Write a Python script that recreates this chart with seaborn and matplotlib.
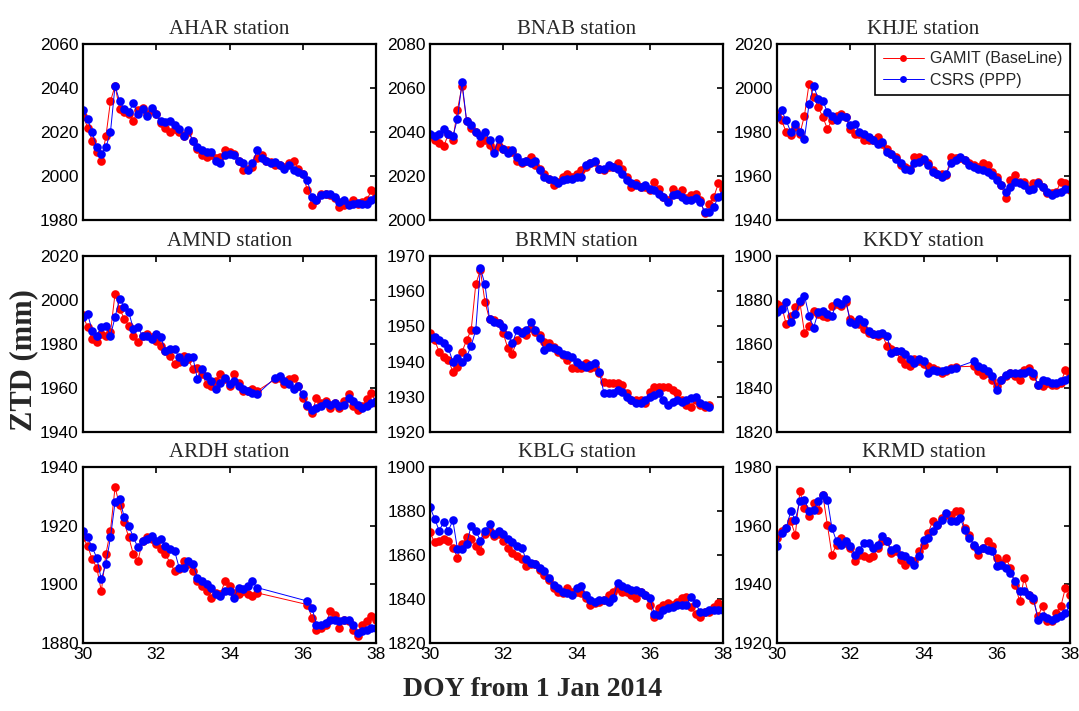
import numpy as np
import pandas as pd
import matplotlib
matplotlib.use("Agg")
import matplotlib.pyplot as plt
import seaborn as sns

# ---------------- data ----------------
doy = np.arange(30, 38.0001, 0.125)   # 3-hourly epochs, DOY 30..38

stations = ["AHAR", "BNAB", "KHJE", "AMND", "BRMN", "KKDY", "ARDH", "KBLG", "KRMD"]
series_names = ["GAMIT (BaseLine)", "CSRS (PPP)"]
N = None

ahar_gamit = [2027.5, 2022, 2016, 2011, 2007, 2018, 2034, 2041,
              2030.5, 2029, 2028, 2025, 2030, 2031, 2028, 2030,
              2028, 2024, 2022, 2020, 2021.5, 2020, 2018, 2020,
              2016, 2012.5, 2009.5, 2008.5, 2009.5, 2008, 2008.5, 2011.7,
              2011, 2010, 2007, 2002.7, 2003.4, 2004, 2008, 2009.5,
              2007, 2006.4, 2005, 2005, 2004, 2005.7, 2007, 2003.4,
              2001, 1993.6, 1986.8, 1989, 1992, 1992, 1991.3, 1989.8,
              1986, 1986.8, 1987.5, 1989, 1987.5, 1988.3, 1989, 1993.6,
              1991.3]
ahar_csrs = [2030, 2026, 2020, 2013, 2010, 2013, 2020, 2041,
             2034, 2030.5, 2029, 2033, 2028, 2030.5, 2027.5, 2031,
             2028, 2025, 2024.5, 2025, 2023, 2021.5, 2018, 2020.7,
             2016, 2013, 2011.7, 2011, 2011, 2007, 2005.7, 2009.5,
             2010, 2009.5, 2007, 2005.7, 2002.7, 2005.7, 2011.7, 2008,
             2007, 2005.7, 2006.4, 2005, 2003.4, 2005, 2002.7, 2002,
             2001, 1998, 1990.5, 1989, 1991.3, 1992, 1991.6, 1990.5,
             1988.3, 1989, 1986.8, 1987.5, 1987.8, 1987.5, 1987.5, 1989,
             1989.8]

bnab_gamit = [2038, 2036.5, 2035, 2033.5, 2039, 2036.5, 2050, 2061,
              2045, 2042, 2040, 2035, 2036.5, 2034, 2032, 2033.5,
              2032.5, 2032, 2031, 2027, 2025.7, 2027, 2028.7, 2025,
              2023.4, 2021, 2018.6, 2015.8, 2017.4, 2019.6, 2021, 2019.6,
              2021, 2022.6, 2024, 2025.7, 2026.4, 2023.4, 2022.6, 2024,
              2024, 2025.7, 2023.4, 2019.6, 2015, 2016.6, 2015, 2015,
              2013.6, 2017.4, 2014.3, 2010.6, 2009, 2014.3, 2012, 2013.6,
              2009.8, 2011.3, 2012, 2009, 2003, 2007.5, 2010.6, 2016.6,
              2014.3]
bnab_csrs = [2039, 2038, 2039, 2041.5, 2039, 2038, 2046, 2062.6,
             2045, 2043, 2040, 2038, 2040, 2036.5, 2030.6, 2037,
             2032.5, 2030.6, 2032, 2028.7, 2026.4, 2027, 2025.7, 2027,
             2022.6, 2019.6, 2018.6, 2018, 2016.6, 2018, 2018.6, 2018.6,
             2019.6, 2019.6, 2025, 2025.7, 2027, 2023.4, 2023.4, 2025,
             2024, 2023.4, 2021, 2018, 2016.6, 2015.8, 2015, 2015.8,
             2014.3, 2013.6, 2012, 2010.6, 2008.3, 2011.3, 2012, 2010.6,
             2009, 2009, 2009.8, 2008.3, 2003.7, 2003.7, 2006, 2010.6,
             2011.3]

khje_gamit = [1988.3, 1985.3, 1980, 1978.5, 1982.3, 1979.2, 1987.5, 2002,
              1996, 1991.3, 1986.8, 1981.5, 1985.3, 1987.5, 1988.3, 1986.8,
              1981.5, 1979.2, 1979.2, 1976.2, 1976.2, 1976.2, 1977.7, 1974.7,
              1972.5, 1970.2, 1968.7, 1965, 1964.2, 1963.4, 1968.7, 1968.7,
              1967.2, 1965.7, 1962.6, 1961.1, 1961.1, 1960.4, 1968.7, 1968,
              1968, 1967.2, 1965.7, 1965, 1964.2, 1965.7, 1965, 1961.9,
              1959.6, 1955.8, 1949.8, 1958.1, 1960.4, 1957.4, 1957.4, 1954.3,
              1956.6, 1957.4, 1955.1, 1952.1, 1952.1, 1952.8, 1957.4, 1956.6,
              1953.6]
khje_csrs = [1986.8, 1989.8, 1985.3, 1980, 1983.8, 1980, 1977, 1992.8,
             2001, 1995, 1994.3, 1989, 1987.5, 1985.3, 1987.5, 1986.8,
             1983, 1983.8, 1980, 1979.2, 1977.7, 1976.2, 1974.7, 1975.5,
             1970.9, 1970.2, 1967.9, 1965.7, 1963.4, 1962.6, 1965.7, 1966.4,
             1967.9, 1965, 1961.9, 1961.1, 1959.6, 1961.1, 1965.7, 1967.2,
             1968.7, 1967.2, 1965, 1964.2, 1963.4, 1962.6, 1961.9, 1960.4,
             1958.1, 1955.8, 1952.8, 1955.1, 1957.4, 1956.6, 1955.8, 1953.6,
             1954.3, 1956.6, 1955.1, 1952.8, 1951.3, 1952.1, 1952.8, 1954.3,
             1954.3]

amnd_gamit = [1993, 1987.6, 1982.3, 1980.8, 1984.6, 1983.8, 1985.3, 2002.9,
              1996, 1991.5, 1988.4, 1983.8, 1980.8, 1983.8, 1984.6, 1983,
              1981.5, 1979.2, 1977, 1974.7, 1970.8, 1971.6, 1974.7, 1973.1,
              1968.5, 1969.3, 1966.3, 1961.7, 1960.9, 1963.2, 1966.3, 1964,
              1960.9, 1966.3, 1962.4, 1958.6, 1958.6, 1959.4, 1958.6, N,
              N, N, 1964, 1964.7, 1961.7, 1964, 1964.7, 1960.9,
              1955.6, 1951.8, 1948.7, 1955.6, 1953.3, 1954, 1951, 1953.3,
              1951, 1954, 1957.1, 1951.8, 1950.2, 1951.8, 1954.8, 1957.9,
              1953.3]
amnd_csrs = [1992.2, 1993.7, 1986.1, 1983.8, 1987.6, 1988.4, 1983.8, 1992.2,
             2000.6, 1996.8, 1994.5, 1986.9, 1987.6, 1983.8, 1983.8, 1982.3,
             1984.6, 1983, 1977, 1977.7, 1977.7, 1973.9, 1971.6, 1973.9,
             1973.9, 1964, 1968.5, 1965.5, 1963.2, 1959.4, 1962.4, 1964.7,
             1961.7, 1963.2, 1960.9, 1959.4, 1958.6, 1957.9, 1957.1, N,
             N, N, 1964.7, 1965.5, 1963.2, 1961.7, 1959.4, 1960.9,
             1957.1, 1952.5, 1950.2, 1951, 1951.8, 1953.3, 1952.5, 1953.3,
             1951.8, 1952.5, 1955.6, 1954, 1952.5, 1951, 1951.8, 1953.3,
             1954]

brmn_gamit = [1948, 1946.1, 1942.8, 1941.4, 1940.5, 1937.1, 1938.6, 1942.8,
              1946.1, 1949, 1962, 1966, 1957, 1952, 1951.8, 1950.9,
              1948, 1943.8, 1942.3, 1946.1, 1948.5, 1947.6, 1949.5, 1948.5,
              1947.6, 1945.7, 1945.2, 1944.2, 1942.8, 1941.9, 1940.5, 1938.1,
              1938.1, 1938.1, 1939.5, 1938.1, 1938.6, 1936.7, 1934.3, 1933.8,
              1933.8, 1933.8, 1933.4, 1931, 1929.1, 1929.1, 1929.1, 1928.1,
              1931.5, 1932.9, 1932.9, 1932.9, 1932.9, 1931.9, 1931, 1929.1,
              1927.7, 1927.2, 1929.1, 1927.7, 1927.2, 1927.7, N, N,
              N]
brmn_csrs = [1946.6, 1947.1, 1946.1, 1945.2, 1943.8, 1940, 1940.9, 1940,
             1941.4, 1944.5, 1949, 1966.5, 1962, 1952, 1951.3, 1950.9,
             1949.9, 1947.6, 1945.2, 1949, 1948, 1949, 1951.3, 1949,
             1946.6, 1943.3, 1944.2, 1943.8, 1943.3, 1942.3, 1941.9, 1941.4,
             1940, 1939, 1938.6, 1939, 1939.5, 1937.1, 1931, 1931,
             1931, 1931.9, 1931.5, 1930, 1929.1, 1928.1, 1928.1, 1929.1,
             1930, 1930.5, 1931, 1929.1, 1927.7, 1928.6, 1929.1, 1928.6,
             1929.1, 1929.6, 1930, 1928.1, 1927.7, 1927.2, N, N,
             N]

kkdy_gamit = [1878.2, 1877.4, 1869, 1872.8, 1876.6, 1878.9, 1865.2, 1868.2,
              1875.1, 1873.6, 1872.8, 1872.1, 1877.4, 1878.2, 1877.4, 1878.9,
              1871.3, 1869.8, 1869, 1866.7, 1865.2, 1864.4, 1863.7, 1864.4,
              1859.1, 1857.6, 1856.8, 1853, 1850.7, 1849.9, 1853, 1852.2,
              1850.7, 1849.9, 1849.2, 1848.4, 1846.9, 1847.6, 1849.2, 1849.6,
              N, N, N, 1849.9, 1847.6, 1846.1, 1846.9, 1843.8,
              1840.8, 1843.8, 1845.3, 1846.9, 1845.3, 1843.8, 1848.4, 1849.2,
              1845.3, 1841.5, 1840.8, 1842.3, 1841.5, 1841.5, 1842.3, 1848.4,
              1846.1]
kkdy_csrs = [1874.4, 1875.9, 1878.9, 1869.8, 1873.6, 1879.7, 1882, 1872.8,
             1867.5, 1874.4, 1875.1, 1873.6, 1872.8, 1878.9, 1878.2, 1880.5,
             1869.8, 1869, 1871.3, 1869.8, 1866, 1864.4, 1864.4, 1865.2,
             1863.7, 1856, 1856.8, 1856.8, 1855.3, 1853, 1851.5, 1853,
             1852.2, 1846.9, 1848.4, 1847.6, 1847.6, 1848.4, 1848.7, 1849.2,
             N, N, N, 1852.2, 1849.9, 1849.2, 1847.6, 1845.3,
             1839.2, 1843.8, 1846.1, 1846.9, 1846.9, 1846.9, 1846.9, 1847.6,
             1846.9, 1841.5, 1843.8, 1843.1, 1842.3, 1842.3, 1843.1, 1843.8,
             1844.6]

ardh_gamit = [1916, 1913.1, 1908.6, 1905.7, 1897.7, 1910.3, 1918.3, 1933.1,
              1926.9, 1921.1, 1916, 1910.3, 1908, 1914.9, 1916, 1915.4,
              1913.7, 1912, 1910.3, 1907.4, 1904.6, 1905.1, 1908, 1906.9,
              1904.6, 1901.1, 1899.4, 1897.7, 1895.4, 1897.1, 1896.6, 1901.1,
              1899.4, 1897.1, 1896.6, 1897.7, 1896.6, 1896, 1897.1, N,
              N, N, N, N, N, N, N, N,
              N, 1893.1, 1888.6, 1884.6, 1885.1, 1886.3, 1890.9, 1889.7,
              1885.1, 1888, 1887.4, 1884.6, 1882.3, 1886.3, 1887.4, 1889.1,
              1888]
ardh_csrs = [1918.3, 1916, 1912.6, 1909.1, 1901.7, 1906.9, 1916, 1928,
             1929.1, 1922.9, 1920, 1916, 1912.6, 1914.9, 1915.4, 1916.6,
             1914.9, 1915.4, 1913.1, 1912, 1911.4, 1905.7, 1905.7, 1908,
             1906.9, 1902.3, 1901.1, 1900, 1898.9, 1896.6, 1896, 1897.7,
             1897.7, 1895.4, 1898.9, 1898.3, 1899.4, 1901.1, 1898.9, N,
             N, N, N, N, N, N, N, N,
             N, 1894.3, 1892, 1886.3, 1886.3, 1886.9, 1888, 1888,
             1887.4, 1888, 1888, 1886.3, 1883.4, 1884, 1884.6, 1885.1,
             1885.1]

kblg_gamit = [1870.3, 1865.7, 1866.5, 1867.2, 1866.5, 1863.4, 1858.8, 1864.9,
              1868, 1867.2, 1864.2, 1861.8, 1869.5, 1871.1, 1868.8, 1869.5,
              1866.5, 1863.4, 1861.1, 1859.5, 1858, 1854.9, 1855.7, 1855.7,
              1853.4, 1851.1, 1848.8, 1844.9, 1843.4, 1842.6, 1844.9, 1843.4,
              1843.4, 1842.6, 1840.3, 1837.2, 1838, 1838.8, 1839.5, 1841.8,
              1843.4, 1844.9, 1843.4, 1843.4, 1841.8, 1840.3, 1843.4, 1841.8,
              1837.2, 1831.8, 1835.7, 1837.2, 1838, 1837.2, 1838.8, 1840.3,
              1841.1, 1836.5, 1833.4, 1831.8, 1834.2, 1834.2, 1836.5, 1838,
              1835.7]
kblg_csrs = [1881.8, 1876.5, 1871.1, 1875, 1871.1, 1875.7, 1862.6, 1862.6,
             1864.9, 1873.4, 1871.1, 1866.5, 1871.1, 1874.2, 1869.5, 1871.1,
             1869.5, 1867.2, 1865.7, 1864.2, 1863.4, 1858, 1856.5, 1855.7,
             1854.2, 1852.6, 1849.5, 1846.5, 1844.9, 1843.4, 1842.6, 1841.8,
             1844.9, 1845.7, 1841.8, 1839.5, 1838.8, 1839.5, 1839.5, 1838.8,
             1840.3, 1847.2, 1845.7, 1844.9, 1844.2, 1844.2, 1843.4, 1841.8,
             1840.3, 1833.4, 1832.6, 1834.9, 1835.7, 1836.5, 1837.2, 1837.2,
             1837.2, 1841.1, 1838, 1834.2, 1834.2, 1834.9, 1834.9, 1834.9,
             1834.9]

krmd_gamit = [1955.8, 1958.1, 1959.2, 1961.5, 1956.9, 1971.7, 1966, 1963.2,
              1967.7, 1965.5, 1970.6, 1960.3, 1950.1, 1953.5, 1955.8, 1954.1,
              1952.4, 1947.8, 1950.1, 1949.5, 1949, 1949.5, 1952.4, 1954.7,
              1954.7, 1950.7, 1951.3, 1948.4, 1946.7, 1947.8, 1947.8, 1951.3,
              1953.5, 1957.5, 1961.5, 1960.3, 1962.6, 1963.8, 1963.8, 1964.9,
              1964.9, 1959.2, 1956.9, 1953, 1950.1, 1952.4, 1954.7, 1953,
              1949, 1947.3, 1949, 1945.6, 1939.9, 1934.2, 1942.2, 1936.5,
              1934.8, 1929.1, 1932.5, 1927.4, 1927.4, 1930.2, 1932.5, 1938.8,
              1936.5]
krmd_csrs = [1953, 1957.5, 1959.2, 1964.9, 1962, 1968.3, 1968.9, 1964.9,
             1965.5, 1968.3, 1970.6, 1968.9, 1959.2, 1954.7, 1953.5, 1954.7,
             1953, 1950.1, 1951.8, 1954.1, 1954.1, 1952.4, 1953.5, 1956.4,
             1954.7, 1951.8, 1952.4, 1950.1, 1949.5, 1948.4, 1946.7, 1949.5,
             1955.2, 1955.8, 1958.1, 1960.3, 1962, 1964.3, 1961.5, 1961.5,
             1962.6, 1958.6, 1955.8, 1953.5, 1951.8, 1952.4, 1951.8, 1951.3,
             1946.1, 1946.7, 1945.6, 1943.9, 1941, 1937.6, 1937.6, 1936.5,
             1935.3, 1928, 1929.1, 1928.5, 1928, 1928.5, 1929.1, 1930.2,
             1933.1]

y_limits = {"AHAR": (1980, 2060, 20), "BNAB": (2000, 2080, 20), "KHJE": (1940, 2020, 20),
            "AMND": (1940, 2020, 20), "BRMN": (1920, 1970, 10), "KKDY": (1820, 1900, 20),
            "ARDH": (1880, 1940, 20), "KBLG": (1820, 1900, 20), "KRMD": (1920, 1980, 20)}
x_ticks = [30, 32, 34, 36, 38]

gamit = dict(zip(stations, [ahar_gamit, bnab_gamit, khje_gamit, amnd_gamit, brmn_gamit,
                            kkdy_gamit, ardh_gamit, kblg_gamit, krmd_gamit]))
csrs = dict(zip(stations, [ahar_csrs, bnab_csrs, khje_csrs, amnd_csrs, brmn_csrs,
                           kkdy_csrs, ardh_csrs, kblg_csrs, krmd_csrs]))

rows = []
for st in stations:
    for name, src in zip(series_names, (gamit, csrs)):
        for d, v in zip(doy, src[st]):
            if v is not None:
                rows.append((st, name, d, v))
df = pd.DataFrame(rows, columns=["station", "source", "doy", "ztd"])

# ---------------- style ----------------
sns.set_theme(style="white")
plt.rcParams["font.family"] = ["Liberation Sans", "DejaVu Sans"]
colors = {series_names[0]: "#ff0000", series_names[1]: "#0000ff"}

W, H = 1079, 711
fig = plt.figure(figsize=(W / 100, H / 100), dpi=100)
col_left = [83, 430, 777]
row_top = [44, 256, 467]
aw, ah = 293, 176

for i, st in enumerate(stations):
    r, c = divmod(i, 3)
    ax = fig.add_axes([col_left[c] / W, 1 - (row_top[r] + ah) / H, aw / W, ah / H])
    sub = df[df.station == st]
    for name in series_names:
        sns.lineplot(data=sub[sub.source == name], x="doy", y="ztd", ax=ax,
                     color=colors[name], linewidth=0.7, marker="o", markersize=6.2,
                     markeredgewidth=0, estimator=None, sort=False, label=name)
    lo, hi, step = y_limits[st]
    ax.set_xlim(30, 38)
    ax.set_ylim(lo, hi)
    ax.set_xticks(x_ticks)
    ax.set_yticks(np.arange(lo, hi + 0.1, step))
    ax.set_xlabel("")
    ax.set_ylabel("")
    ax.tick_params(direction="in", length=4, width=1.2, top=True, right=True,
                   labelsize=12.5, pad=3, colors="black")
    if r < 2:
        ax.set_xticklabels([])
    for sp in ax.spines.values():
        sp.set_linewidth(1.6)
        sp.set_color("black")
    ax.set_title(f"{st} station", fontsize=15, family="Liberation Serif", pad=7)
    if st == "KHJE":
        leg = ax.legend(loc="upper right", fontsize=11.5, frameon=True, fancybox=False,
                        edgecolor="black", framealpha=1, borderaxespad=0,
                        handlelength=2.6, handletextpad=0.4, borderpad=0.45,
                        labelspacing=0.4, markerscale=0.8)
        leg.get_frame().set_linewidth(1.2)
    else:
        lg = ax.get_legend()
        if lg is not None:
            lg.remove()

fig.text(0.022, 0.494, "ZTD (mm)", rotation=90, ha="center", va="center",
         fontsize=22, fontweight="bold", family="Liberation Serif")
fig.text(0.494, 0.03, "DOY from 1 Jan 2014", ha="center", va="center",
         fontsize=20, fontweight="bold", family="Liberation Serif")

fig.savefig("out.png", dpi=100)
